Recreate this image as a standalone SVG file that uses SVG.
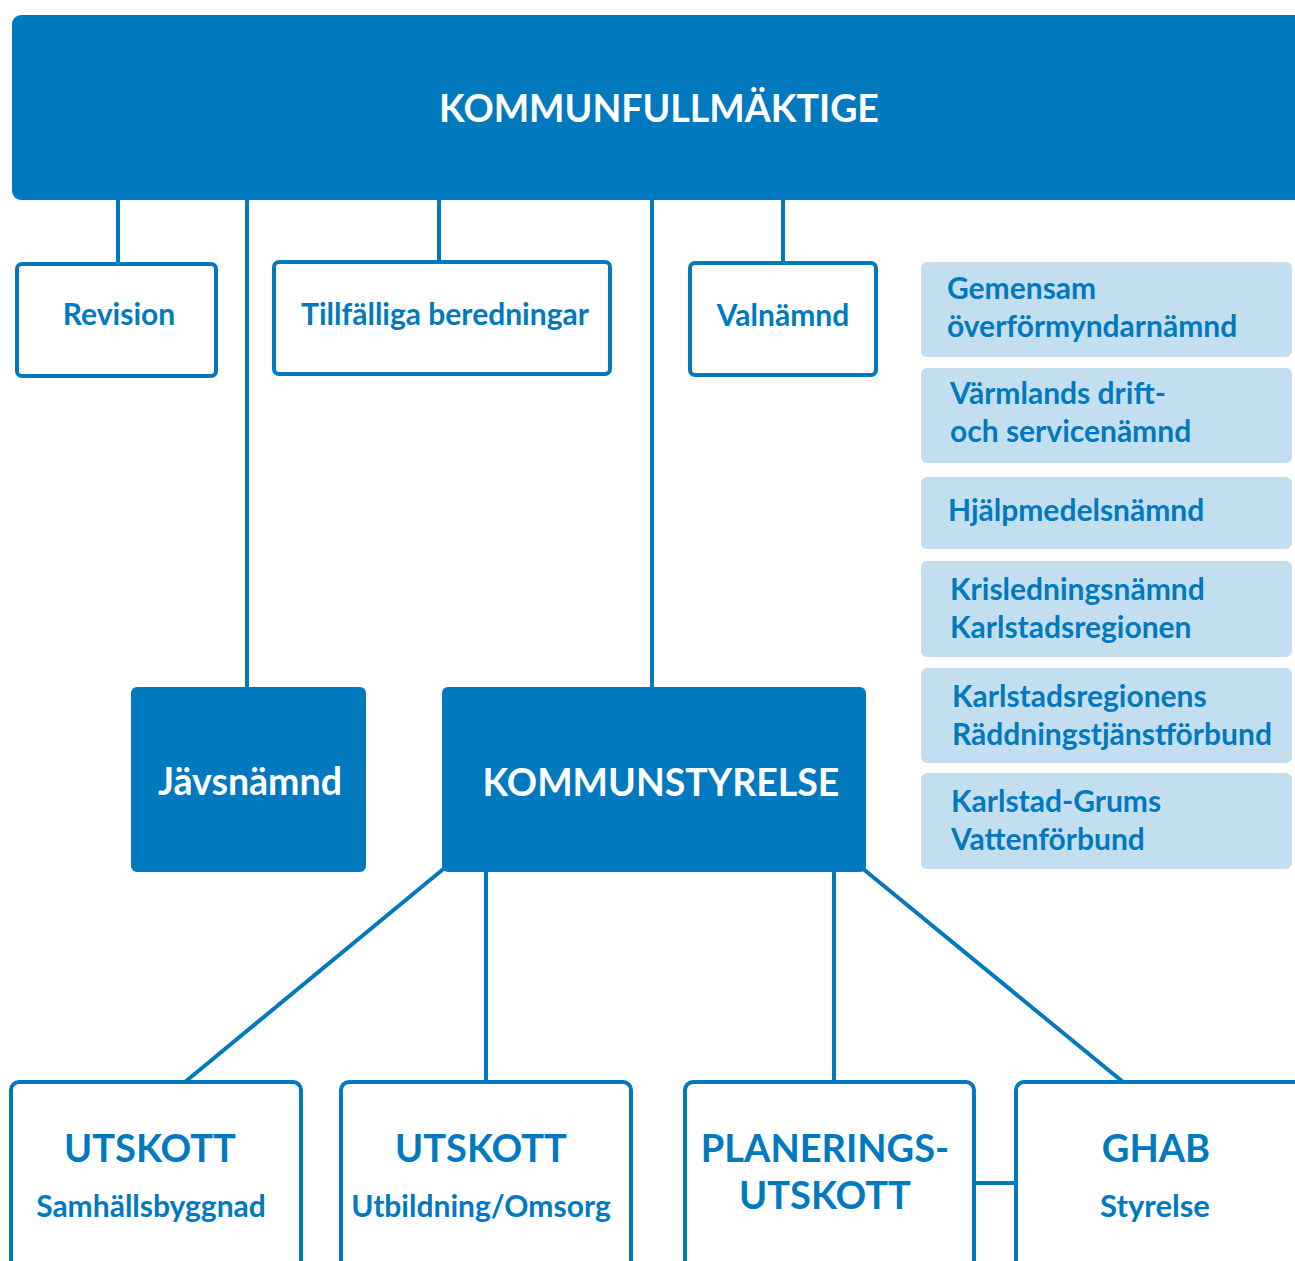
<svg xmlns="http://www.w3.org/2000/svg" width="1295" height="1261" viewBox="0 0 1295 1261">
<style>
.solid{fill:#0079bf}
.outline{fill:#fff;stroke:#0079bf;stroke-width:4}
.light{fill:#c3dfef}
.con{stroke:#0079bf;stroke-width:4;fill:none}
text{font-family:Lato,"Open Sans","Liberation Sans",sans-serif;font-weight:700}
.w{fill:#fff}
.b{fill:#0079bf}
.c{text-anchor:middle}
.s26{font-size:30px}
.lt{font-size:30px}
</style>
<rect width="1295" height="1261" fill="#fff"/>
<g id="connectors" class="con">
<line x1="118" y1="198" x2="118" y2="265"/>
<line x1="247" y1="198" x2="247" y2="689"/>
<line x1="439" y1="198" x2="439" y2="264"/>
<line x1="652" y1="198" x2="652" y2="689"/>
<line x1="783" y1="198" x2="783" y2="265"/>
<line x1="447" y1="866" x2="185" y2="1082"/>
<line x1="486" y1="870" x2="486" y2="1082"/>
<line x1="834" y1="870" x2="834" y2="1082"/>
<line x1="862" y1="868" x2="1123" y2="1082"/>
<line x1="974" y1="1183" x2="1016" y2="1183"/>
</g>
<g id="kommunfullmaktige">
<rect class="solid" x="12" y="15" width="1300" height="185" rx="9"/>
<text class="w c" x="659" y="122" font-size="37.5">KOMMUNFULLMÄKTIGE</text>
</g>
<g id="revision">
<rect class="outline" x="17" y="264" width="199" height="112" rx="5"/>
<text class="b c s26" x="119" y="325">Revision</text>
</g>
<g id="tillfalliga">
<rect class="outline" x="274" y="262" width="336" height="112" rx="5"/>
<text class="b c s26" x="445" y="325">Tillfälliga beredningar</text>
</g>
<g id="valnamnd">
<rect class="outline" x="690" y="263" width="186" height="112" rx="5"/>
<text class="b c s26" x="783" y="326">Valnämnd</text>
</g>
<g id="gemensam">
<rect class="light" x="921" y="262" width="371" height="95" rx="6"/>
<text class="b lt" x="947" y="299">Gemensam</text>
<text class="b lt" x="947" y="337">överförmyndarnämnd</text>
</g>
<g id="varmlands">
<rect class="light" x="921" y="368" width="371" height="95" rx="6"/>
<text class="b lt" x="950" y="404">Värmlands drift-</text>
<text class="b lt" x="950" y="442">och servicenämnd</text>
</g>
<g id="hjalpmedel">
<rect class="light" x="921" y="477" width="371" height="72" rx="6"/>
<text class="b lt" x="948" y="521">Hjälpmedelsnämnd</text>
</g>
<g id="krisledning">
<rect class="light" x="921" y="561" width="371" height="96" rx="6"/>
<text class="b lt" x="950" y="600">Krisledningsnämnd</text>
<text class="b lt" x="950" y="638">Karlstadsregionen</text>
</g>
<g id="raddning">
<rect class="light" x="921" y="668" width="371" height="95" rx="6"/>
<text class="b lt" x="952" y="707">Karlstadsregionens</text>
<text class="b lt" x="952" y="745">Räddningstjänstförbund</text>
</g>
<g id="vatten">
<rect class="light" x="921" y="773" width="371" height="96" rx="6"/>
<text class="b lt" x="951" y="812">Karlstad-Grums</text>
<text class="b lt" x="951" y="850">Vattenförbund</text>
</g>
<g id="javsnamnd">
<rect class="solid" x="131" y="687" width="235" height="185" rx="6"/>
<text class="w c" x="250" y="795" font-size="37.5">Jävsnämnd</text>
</g>
<g id="kommunstyrelse">
<rect class="solid" x="442" y="687" width="424" height="185" rx="6"/>
<text class="w c" x="661" y="796" font-size="37.5">KOMMUNSTYRELSE</text>
</g>
<g id="utskott-samhall">
<rect class="outline" x="11" y="1082" width="290" height="200" rx="8"/>
<text class="b c" x="150" y="1162" font-size="38">UTSKOTT</text>
<text class="b c" x="151" y="1217" font-size="30">Samhällsbyggnad</text>
</g>
<g id="utskott-utbildning">
<rect class="outline" x="341" y="1082" width="290" height="200" rx="8"/>
<text class="b c" x="481" y="1162" font-size="38">UTSKOTT</text>
<text class="b c" x="481" y="1217" font-size="30">Utbildning/Omsorg</text>
</g>
<g id="planeringsutskott">
<rect class="outline" x="685" y="1082" width="289" height="200" rx="8"/>
<text class="b c" x="825" y="1162" font-size="38">PLANERINGS-</text>
<text class="b c" x="825" y="1209" font-size="38">UTSKOTT</text>
</g>
<g id="ghab">
<rect class="outline" x="1016" y="1082" width="300" height="200" rx="8"/>
<text class="b c" x="1156" y="1162" font-size="38">GHAB</text>
<text class="b c" x="1155" y="1217" font-size="31">Styrelse</text>
</g>
</svg>
